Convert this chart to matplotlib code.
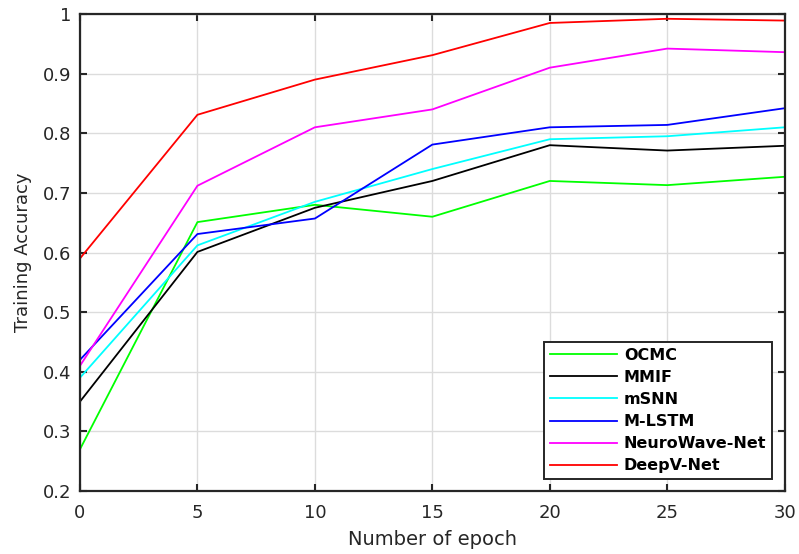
import matplotlib.pyplot as plt

plt.rcParams['font.family'] = ['DejaVu Sans']

epochs = [0, 5, 10, 15, 20, 25, 30]
ocmc = [0.27, 0.651, 0.680, 0.660, 0.720, 0.713, 0.727]
mmif = [0.35, 0.601, 0.675, 0.720, 0.780, 0.771, 0.779]
msnn = [0.39, 0.612, 0.685, 0.740, 0.790, 0.795, 0.810]
mlstm = [0.42, 0.631, 0.657, 0.781, 0.810, 0.814, 0.842]
neurowave = [0.41, 0.712, 0.810, 0.840, 0.910, 0.942, 0.936]
deepv = [0.59, 0.831, 0.890, 0.931, 0.985, 0.992, 0.989]

names = ['OCMC', 'MMIF', 'mSNN', 'M-LSTM', 'NeuroWave-Net', 'DeepV-Net']
colors = ['#00ff00', '#000000', '#00ffff', '#0000ff', '#ff00ff', '#ff0000']
series = [ocmc, mmif, msnn, mlstm, neurowave, deepv]

fig = plt.figure(figsize=(7.99, 5.54), dpi=100)
ax = fig.add_axes([0.1001, 0.1137, 0.882, 0.861])

for vals, name, c in zip(series, names, colors):
    ax.plot(epochs, vals, color=c, lw=1.3, label=name)

ax.set_xlim(0, 30)
ax.set_ylim(0.2, 1.0)
ax.set_xticks(range(0, 31, 5))
ax.set_yticks([0.2, 0.3, 0.4, 0.5, 0.6, 0.7, 0.8, 0.9, 1.0])
ax.set_yticklabels(['0.2', '0.3', '0.4', '0.5', '0.6', '0.7', '0.8', '0.9', '1'])
ax.grid(True, color='#dcdcdc', lw=1.0)
ax.tick_params(direction='in', length=5, width=1.5, top=True, right=True,
               labelsize=13, colors='#262626')
ax.tick_params(axis='x', pad=9)
ax.tick_params(axis='y', pad=6)
for s in ax.spines.values():
    s.set_linewidth(1.6)
    s.set_color('#262626')

ax.set_xlabel('Number of epoch', fontsize=14, color='#262626', labelpad=6)
ax.set_ylabel('Training Accuracy', fontsize=13, color='#262626', labelpad=8)

leg = ax.legend(loc='lower right', prop={'weight': 'bold', 'size': 11.5},
                fancybox=False, edgecolor='#262626', framealpha=1,
                handlelength=4.2, borderpad=0.35, labelspacing=0.45,
                handletextpad=0.45, borderaxespad=0, bbox_to_anchor=(0.982, 0.025))
leg.get_frame().set_linewidth(1.4)

fig.savefig('out.png', dpi=100)
